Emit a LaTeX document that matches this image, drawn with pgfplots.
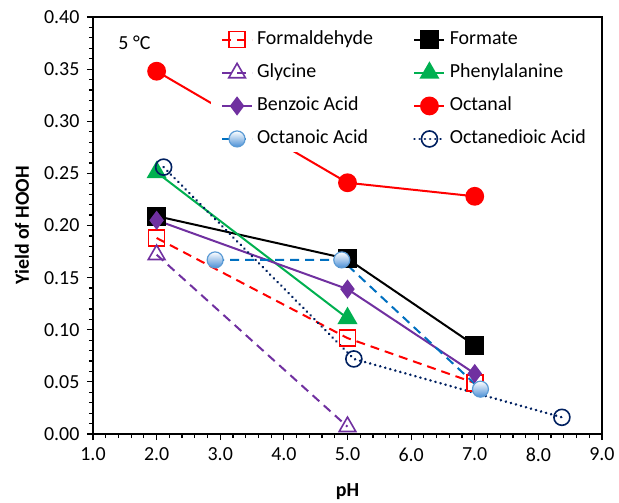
\documentclass[border=0pt]{standalone}
\usepackage{pgfplots}
\pgfplotsset{compat=1.18}
\usepackage{fontspec}
\setmainfont{Carlito}
\definecolor{cred}{HTML}{FF0000}
\definecolor{cpurple}{HTML}{7030A0}
\definecolor{cgreen}{HTML}{00B050}
\definecolor{cblue}{HTML}{0070C0}
\definecolor{cblueb}{HTML}{5B9BD5}
\definecolor{cbluec}{HTML}{4A8FD6}
\definecolor{cnavy}{HTML}{002060}
\pgfdeclareverticalshading{octshade}{100bp}{color(0bp)=(cbluec); color(25bp)=(cbluec); color(75bp)=(white); color(100bp)=(white)}
\pgfdeclareplotmark{gradcircle}{%
  \pgfpathcircle{\pgfpointorigin}{\pgfplotmarksize}%
  \pgfshadepath{octshade}{0}%
  \pgfusepath{discard}%
  \pgfpathcircle{\pgfpointorigin}{\pgfplotmarksize}%
  \pgfusepathqstroke}
\begin{document}
\begin{tikzpicture}
\useasboundingbox (0,0) rectangle (309.5bp,251.5bp);
\begin{axis}[
  at={(46.5bp,34.5bp)}, anchor=south west,
  scale only axis, width=254.5bp, height=208.5bp,
  xmin=1, xmax=9, ymin=0, ymax=0.4,
  xtick={1,2,3,4,5,6,7,8,9},
  ytick={0,0.05,0.1,0.15,0.2,0.25,0.3,0.35,0.4},
  minor x tick num=4, minor y tick num=4,
  tick align=outside, tick pos=left,
  major tick length=3bp, minor tick length=2bp,
  axis line style={line width=0.8bp},
  every tick/.style={black, line width=0.6bp},
  /pgf/number format/assume math mode=true,
  x tick label style={/pgf/number format/fixed, /pgf/number format/fixed zerofill, /pgf/number format/precision=1},
  y tick label style={/pgf/number format/fixed, /pgf/number format/fixed zerofill, /pgf/number format/precision=2},
  tick label style={font=\fontsize{10}{12}\selectfont},
  xlabel={\textbf{pH}}, ylabel={\textbf{Yield of HOOH}},
  every axis x label/.style={at={(axis description cs:0.5,-0.139)}, anchor=center, font=\fontsize{10}{12}\selectfont\bfseries},
  every axis y label/.style={at={(axis description cs:-0.1395,0.5)}, rotate=90, anchor=center, font=\fontsize{10}{12}\selectfont\bfseries},
  legend columns=2,
  legend cell align=left,
  legend style={draw=none, fill=white, at={(rel axis cs:0.23,0.98)}, anchor=north west,
    font=\fontsize{10}{12}\selectfont, inner xsep=5bp, inner ysep=2bp,
    nodes={text height=7bp, text depth=2.2bp, inner ysep=0pt},
    row sep=7.3bp,
    /tikz/every even column/.append style={column sep=18bp}},
  legend image code/.code={\draw[mark repeat=2,mark phase=2,#1] plot coordinates {(0bp,0bp)(7.5bp,0bp)(15bp,0bp)};},
  line width=1bp,
]
\addplot[cred, dash pattern=on 4.5bp off 3bp, mark=square, mark size=4bp, mark options={solid, line width=0.8bp}]
  coordinates {(2,0.188) (5,0.092) (7,0.049)};
\addlegendentry{Formaldehyde}
\addplot[black, mark=square*, mark size=4.2bp, mark options={solid}]
  coordinates {(2,0.209) (5,0.168) (7,0.085)};
\addlegendentry{Formate}
\addplot[cpurple, dash pattern=on 4.5bp off 3bp, mark=triangle, mark size=4.8bp, mark options={solid, line width=0.8bp}]
  coordinates {(2,0.172) (5,0.007)};
\addlegendentry{Glycine}
\addplot[cgreen, mark=triangle*, mark size=4.8bp, mark options={solid}]
  coordinates {(2,0.251) (5,0.111)};
\addlegendentry{Phenylalanine}
\addplot[cpurple, mark=diamond*, mark size=4bp, mark options={solid}]
  coordinates {(2,0.205) (5,0.139) (7,0.058)};
\addlegendentry{Benzoic Acid}
\addplot[cred, mark=*, mark size=4.2bp, mark options={solid}]
  coordinates {(2,0.348) (5,0.241) (7,0.228)};
\addlegendentry{Octanal}
\addplot[cblue, dash pattern=on 4.5bp off 3bp, mark=gradcircle, mark size=4bp, mark options={solid, draw=cblueb, line width=0.6bp}]
  coordinates {(2.92,0.167) (4.91,0.167) (7.09,0.043)};
\addlegendentry{Octanoic Acid}
\addplot[cnavy, line cap=round, dash pattern=on 0.01bp off 2.6bp, line width=1.4bp, mark=o, mark size=4bp, mark options={solid, line width=0.8bp}]
  coordinates {(2.11,0.256) (5.1,0.072) (8.37,0.016)};
\addlegendentry{Octanedioic Acid}
\node[anchor=west, font=\fontsize{10}{12}\selectfont] at (rel axis cs:0.035,0.938) {5 °C};
\end{axis}
\end{tikzpicture}
\end{document}
